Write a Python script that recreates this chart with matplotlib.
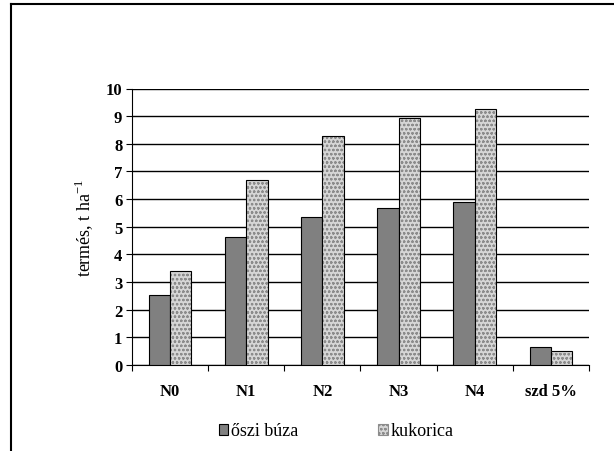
import matplotlib
matplotlib.use("Agg")
import matplotlib.pyplot as plt
import numpy as np
from matplotlib.patches import Patch
from matplotlib.lines import Line2D

categories = ["N0", "N1", "N2", "N3", "N4", "szd 5%"]
oszi_buza = [2.53, 4.64, 5.34, 5.68, 5.88, 0.65]
kukorica = [3.39, 6.68, 8.27, 8.92, 9.26, 0.52]
y_ticks = list(range(0, 11))
series_names = ["őszi búza", "kukorica"]

plt.rcParams["font.family"] = ["Liberation Serif", "DejaVu Serif"]
plt.rcParams["hatch.linewidth"] = 0.6

fig = plt.figure(figsize=(6.14, 4.52), dpi=100)
ax = fig.add_axes([132 / 614, 1 - 366 / 452, (589 - 132) / 614, (366 - 89.5) / 452])

x = np.arange(len(categories))
w = 0.28

ax.set_axisbelow(True)
ax.yaxis.grid(True, color="black", linewidth=1.0)

ax.bar(x - w / 2, oszi_buza, w, color="#808080", edgecolor="black", linewidth=0.8, zorder=3)
# patterned fill, then a plain black outline on top
ax.bar(x + w / 2, kukorica, w, color="#d6d6d6", edgecolor="#8c8c8c", hatch="oooo",
       linewidth=0, zorder=3)
ax.bar(x + w / 2, kukorica, w, fill=False, edgecolor="black", linewidth=0.8, zorder=4)

ax.set_xlim(-0.5, len(categories) - 0.5)
ax.set_ylim(0, 10)
ax.set_yticks(y_ticks)
ax.set_yticklabels([str(t) for t in y_ticks], fontweight="bold", fontsize=12)

ax.set_xticks(np.arange(len(categories) + 1) - 0.5, minor=False)
ax.set_xticklabels([])
ax.set_xticks(x, minor=True)
ax.set_xticklabels(categories, minor=True, fontweight="bold", fontsize=12)
ax.tick_params(axis="x", which="major", direction="out", length=4, width=0.8, color="black")
ax.tick_params(axis="x", which="minor", length=0, pad=13)
ax.tick_params(axis="y", direction="out", length=4, width=0.8, pad=3)

for s in ["top", "right"]:
    ax.spines[s].set_visible(False)
ax.spines["left"].set_color("black")
ax.spines["bottom"].set_color("black")
ax.spines["left"].set_linewidth(0.8)
ax.spines["bottom"].set_linewidth(0.8)

ax.set_ylabel("termés, t ha$^{\\mathregular{-1}}$", fontsize=13, labelpad=8)

handles = [
    Patch(facecolor="#808080", edgecolor="black", linewidth=0.8),
    Patch(facecolor="#d6d6d6", edgecolor="#8c8c8c", hatch="oooo", linewidth=0.8),
]
leg = fig.legend(handles, series_names, loc="center", bbox_to_anchor=(336 / 614, 1 - 432 / 452),
                 ncol=2, frameon=False, fontsize=13, handlelength=0.55, handleheight=0.55,
                 handletextpad=0.15, columnspacing=4.4, borderpad=0)

# chart frame (left and top edges)
fig.add_artist(Line2D([11 / 614, 11 / 614], [0, 1 - 5 / 452], transform=fig.transFigure,
                      color="black", linewidth=1.5))
fig.add_artist(Line2D([11 / 614, 1], [1 - 5 / 452, 1 - 5 / 452], transform=fig.transFigure,
                      color="black", linewidth=1.5))

fig.savefig("out.png", dpi=100, facecolor="white")
